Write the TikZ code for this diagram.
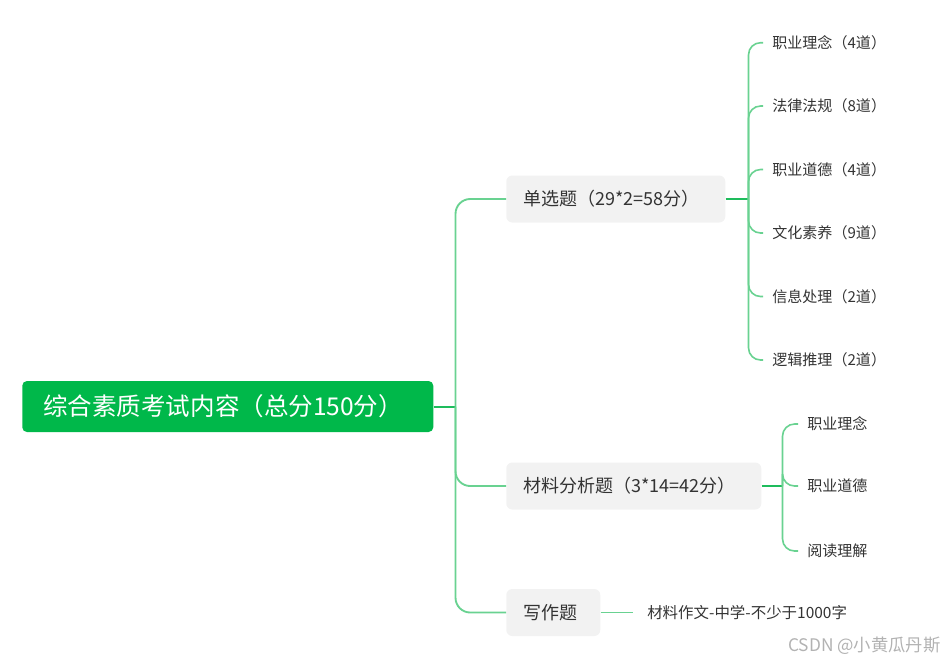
\documentclass[tikz,border=0pt]{standalone}
\usepackage{fontspec}
\setmainfont{Noto Sans CJK SC}
\definecolor{rootgreen}{RGB}{0,184,74}
\definecolor{lnDark}{RGB}{30,188,92}
\definecolor{lnLight}{RGB}{105,210,145}
\definecolor{boxgray}{RGB}{242,242,242}
\definecolor{txtgray}{RGB}{51,51,51}
\begin{document}
\begin{tikzpicture}[x=0.75pt,y=-0.75pt,
  rootbox/.style={fill=rootgreen,text=white,rounded corners=3.5pt,anchor=west,
    inner xsep=15.75pt,inner ysep=0pt,minimum height=38.25pt,align=left,
    font=\fontsize{18.4}{21}\selectfont},
  lvbox/.style={fill=boxgray,text=txtgray,rounded corners=4.5pt,anchor=west,
    inner xsep=12.75pt,inner ysep=0pt,minimum height=35.25pt,align=left,
    font=\fontsize{13.5}{16}\selectfont},
  leaf/.style={text=txtgray,anchor=west,inner xsep=6.75pt,inner ysep=0pt,
    font=\fontsize{11.3}{14}\selectfont},
  conA/.style={draw=lnDark,line width=1.5pt},
  conB/.style={draw=lnLight,line width=1.4pt,rounded corners=11pt},
  conC/.style={draw=lnLight,line width=1.2pt,rounded corners=9pt}
]
\useasboundingbox (0,0) rectangle (945,662);

\node[rootbox,text width=276.75pt] (root) at (22,406.5) {综合素质考试内容（总分150分）};

\node[lvbox,text width=138.75pt] (b1) at (506,199) {单选题（29*2=58分）};
\node[lvbox,text width=165.75pt] (b2) at (506,486) {材料分析题（3*14=42分）};
\node[lvbox,text width=45pt] (b3) at (506,612.5) {写作题};

\node[leaf] (l1) at (763,42.7) {职业理念（4道）};
\node[leaf] (l2) at (763,106) {法律法规（8道）};
\node[leaf] (l3) at (763,169.5) {职业道德（4道）};
\node[leaf] (l4) at (763,233) {文化素养（9道）};
\node[leaf] (l5) at (763,296.5) {信息处理（2道）};
\node[leaf] (l6) at (763,360) {逻辑推理（2道）};

\node[leaf] (m1) at (798,424) {职业理念};
\node[leaf] (m2) at (798,486) {职业道德};
\node[leaf] (m3) at (798,551) {阅读理解};

\node[leaf,inner xsep=10.5pt,font=\fontsize{11.6}{14}\selectfont] (w1) at (633,612.5) {材料作文-中学-不少于1000字};

\node[anchor=west,inner sep=0pt,text=black!30,font=\fontsize{13}{15}\selectfont] (wm) at (788,646) {CSDN @小黄瓜丹斯};

% level-1 connectors
\coordinate (rj) at ([xshift=16.5pt]root.east);
\draw[conA] (root.east) -- (rj);
\foreach \b in {b1,b2,b3} \draw[conB] (rj) |- (\b.west);

% single-choice leaves
\coordinate (dj1) at ([xshift=17.25pt]b1.east);
\draw[conA] (b1.east) -- (dj1);
\foreach \l in {l1,l2,l3,l4,l5,l6} \draw[conC] (dj1) |- (\l.west);

% material leaves
\coordinate (dj2) at ([xshift=15.75pt]b2.east);
\draw[conA] (b2.east) -- (dj2);
\foreach \l in {m1,m2,m3} \draw[conC] (dj2) |- (\l.west);

% writing
\draw[conC] (b3.east) -- (w1.west);
\end{tikzpicture}
\end{document}
